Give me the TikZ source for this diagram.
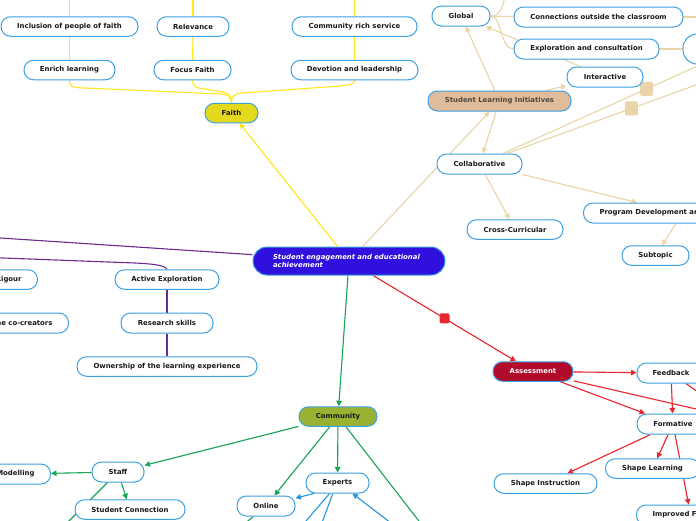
\documentclass[tikz,border=0pt]{standalone}
\usepackage{fontspec}
\setmainfont{DejaVu Sans}
\usetikzlibrary{arrows.meta,calc}
\definecolor{nb}{RGB}{61,160,226}
\definecolor{txt}{RGB}{25,25,25}
\definecolor{yl}{RGB}{255,230,30}
\definecolor{faithF}{RGB}{229,217,30}
\definecolor{tanl}{RGB}{234,213,168}
\definecolor{sliF}{RGB}{224,188,154}
\definecolor{sliT}{RGB}{80,70,60}
\definecolor{purp}{RGB}{108,42,143}
\definecolor{cenF}{RGB}{48,16,220}
\definecolor{redl}{RGB}{232,38,46}
\definecolor{assF}{RGB}{177,12,43}
\definecolor{grn}{RGB}{24,165,88}
\definecolor{oliveF}{RGB}{154,178,50}
\definecolor{bll}{RGB}{40,150,220}
\pgfdeclarelayer{bg}
\pgfsetlayers{bg,main}
\begin{document}
\begin{tikzpicture}[x=1pt,y=-1pt,
  box/.style={draw=nb,line width=1pt,rounded corners=9.5pt,minimum height=19.5pt,inner xsep=0pt,inner ysep=0pt,fill=white,text=txt,font=\bfseries\fontsize{6.9}{8}\selectfont},
  central/.style={draw=nb,line width=1pt,rounded corners=14pt,minimum height=28pt,minimum width=192pt,inner xsep=20pt,inner ysep=0pt,text width=152pt,align=left,fill=cenF,text=white,font=\bfseries\itshape\fontsize{6.9}{8.6}\selectfont},
  conn/.style={line width=1.1pt},
  ar/.style={-{Triangle[length=5.5pt,width=5.5pt]}},
  sq/.style={fill=tanl,minimum width=13pt,minimum height=14pt,rounded corners=2pt,inner sep=0pt},
  rsq/.style={fill=redl,minimum width=10pt,minimum height=10pt,rounded corners=1.5pt,inner sep=0pt}
]
\useasboundingbox (0,0) rectangle (696,520);
\clip (0,0) rectangle (696,520);

% nodes
\node[box,minimum width=137pt] (inc) at (69.5,26.5) {Inclusion of people of faith};
\node[box,minimum width=72pt] (rel) at (193,26.5) {Relevance};
\node[box,minimum width=125pt] (crs) at (354.5,26.5) {Community rich service};
\node[box,minimum width=91pt] (enr) at (69.5,70) {Enrich learning};
\node[box,minimum width=77pt] (foc) at (192.5,70) {Focus Faith};
\node[box,minimum width=127pt] (dev) at (354.5,70) {Devotion and leadership};
\node[box,minimum width=53pt,fill=faithF] (faith) at (231.5,113) {Faith};
\node[box,minimum width=58pt,minimum height=20pt] (glob) at (461,16) {Global};
\node[box,minimum width=169pt,minimum height=20pt] (conn) at (598.5,17) {Connections outside the classroom};
\node[box,minimum width=145pt,minimum height=20pt] (expl) at (586.5,49) {Exploration and consultation};
\node[box,minimum width=74pt,minimum height=30pt,rounded corners=14pt] (rnode) at (720,49) {};
\node[box,minimum width=76pt,minimum height=20pt] (inter) at (605,77) {Interactive};
\node[box,minimum width=143pt,minimum height=20pt,fill=sliF,text=sliT] (sli) at (499.5,101) {Student Learning Initiatives};
\node[box,minimum width=85pt,minimum height=20pt] (collab) at (479.5,164) {Collaborative};
\node[box,minimum width=96pt] (cross) at (515,229.5) {Cross-Curricular};
\node[box,anchor=west,inner xsep=16pt,minimum height=20pt] (prog) at (583,213) {Program Development and};
\node[box,minimum width=67pt] (sub) at (655.5,255.5) {Subtopic};
\node[central] (cen) at (349,261) {Student engagement and educational\\achievement};
\node[box,anchor=east,inner xsep=16pt] (rig) at (38,279.5) {Rigour};
\node[box,anchor=east,inner xsep=16pt,minimum height=20pt] (cocr) at (69,323) {the co-creators};
\node[box,minimum width=104pt] (act) at (167,279.5) {Active Exploration};
\node[box,minimum width=92pt,minimum height=20pt] (res) at (167,323) {Research skills};
\node[box,minimum width=180pt] (own) at (167,366.5) {Ownership of the learning experience};
\node[box,minimum width=80pt,fill=assF,text=white] (ass) at (533,371.5) {Assessment};
\node[box,minimum width=68pt,minimum height=20pt] (feed) at (671,373) {Feedback};
\node[box,minimum width=72pt,minimum height=20pt] (form) at (673,424) {Formative};
\node[box,minimum width=94pt] (shl) at (652.5,468.5) {Shape Learning};
\node[box,minimum width=103pt] (shi) at (545.5,483.5) {Shape Instruction};
\node[box,anchor=west,inner xsep=16pt,minimum height=20pt] (imp) at (636,515) {Improved Feedback};
\node[box,minimum width=78pt,fill=oliveF] (comm) at (338,416.5) {Community};
\node[box,minimum width=52pt,minimum height=20pt] (staff) at (118,472) {Staff};
\node[box,anchor=east,inner xsep=16pt,minimum height=20pt] (mod) at (51,474) {Modelling};
\node[box,minimum width=110pt] (stc) at (130,509.5) {Student Connection};
\node[box,minimum width=63pt,minimum height=20pt] (exp) at (337.5,483) {Experts};
\node[box,minimum width=58pt,minimum height=20pt] (onl) at (266,506) {Online};

% free ends
\coordinate (y1) at (69.5,-5);
\coordinate (y2) at (193,-5);
\coordinate (y3) at (354.5,-5);
\coordinate (g1) at (505,-5);
\coordinate (c1) at (712,17);
\coordinate (tr1) at (712,59.5);
\coordinate (tr2) at (712,79.2);
\coordinate (p1) at (-10,237.3);
\coordinate (p2) at (-10,257.5);
\coordinate (r1) at (720,414.5);
\coordinate (r2) at (710,400.5);
\coordinate (gr1) at (430,535.4);
\coordinate (gr2) at (60,530);
\coordinate (gr3) at (225,540);
\coordinate (b1) at (300,528);
\coordinate (b2) at (320,528);
\coordinate (b3) at (400,530);

\begin{pgfonlayer}{bg}
\fill[white] (0,0) rectangle (696,520);
% yellow
\begin{scope}[conn,draw=yl]
\draw (inc.north) -- (y1);
\draw (rel.north) -- (y2);
\draw (crs.north) -- (y3);
\draw (inc.south) -- (enr.south |- inc.south) -- (enr.north);
\draw (rel.south) -- (foc.north);
\draw (crs.south) -- (dev.north);
\draw (enr.south) .. controls (69.5,86) and (72,87.5) .. (80,87.8) -- (220,94) .. controls (228,94.4) and (231.5,97) .. (faith.north);
\draw (foc.south) .. controls (192.5,87) and (196,88) .. (205,89) -- (222,92) .. controls (230,93.5) and (231.5,96) .. (faith.north);
\draw (dev.south) .. controls (354.5,84) and (350,85) .. (340,86) -- (242,93) .. controls (234,94) and (231.5,96) .. (faith.north);
\draw[ar,fill=yl] (cen) -- (faith);
\end{scope}
% tan
\begin{scope}[conn,draw=tanl]
\draw[ar,fill=tanl] (cen) -- (sli);
\draw[ar,fill=tanl] (sli) -- (glob);
\draw[ar,fill=tanl] (sli) -- (inter);
\draw[ar,fill=tanl] (sli) -- (collab);
\draw[ar,fill=tanl] (collab) -- (cross);
\draw[ar,fill=tanl] (collab) -- ($(prog.north west)+(54,0)$);
\draw[ar,fill=tanl] ($(prog.south west)+(93,0)$) -- (sub);
\draw[ar,fill=tanl] (inter) -- (glob);
\draw (glob) -- (conn);
\draw (glob.east) .. controls (500,16) and (503,8) .. (g1);
\draw (glob.east) .. controls (502,16) and (500,49) .. (expl.west);
\draw (conn) -- (c1);
\draw (expl) -- (rnode);
\draw ($(collab.north)+(23.5,0)$) -- node[pos=0.687,sq]{} (tr1);
\draw ($(collab.north)+(27.5,0)$) -- node[pos=0.607,sq]{} (tr2);
\end{scope}
% purple
\begin{scope}[conn,draw=purp]
\draw (cen) -- (p1);
\draw (p2) -- (135,263) .. controls (155,264) and (165,265.5) .. (act.north);
\draw (act) -- (res);
\draw (res) -- (own);
\end{scope}
% red
\begin{scope}[conn,draw=redl]
\draw[ar,fill=redl] (cen) -- node[midway,rsq]{} (ass);
\draw[ar,fill=redl] (ass) -- (feed);
\draw[ar,fill=redl] (ass) -- (form);
\draw (ass) -- (r1);
\draw[ar,fill=redl] (feed) -- (form);
\draw (feed) -- (r2);
\draw[ar,fill=redl] (form) -- (shi);
\draw[ar,fill=redl] (form) -- (shl);
\draw[ar,fill=redl] (form) -- (imp);
\end{scope}
% green
\begin{scope}[conn,draw=grn]
\draw[ar,fill=grn] (cen) -- (comm);
\draw[ar,fill=grn] (comm) -- (staff);
\draw[ar,fill=grn] (comm) -- (onl);
\draw[ar,fill=grn] (comm) -- (exp);
\draw (comm) -- (gr1);
\draw[ar,fill=grn] (staff) -- (mod);
\draw[ar,fill=grn] (staff) -- (stc);
\draw (staff) -- (gr2);
\draw (onl) -- (gr3);
\end{scope}
% blue
\begin{scope}[conn,draw=bll]
\draw[ar,fill=bll] (exp.204) -- (onl.15);
\draw (exp.233) -- (b1);
\draw (exp.246) -- (b2);
\draw[ar,fill=bll] (b3) -- (exp.325);
\end{scope}
\end{pgfonlayer}
\end{tikzpicture}
\end{document}
